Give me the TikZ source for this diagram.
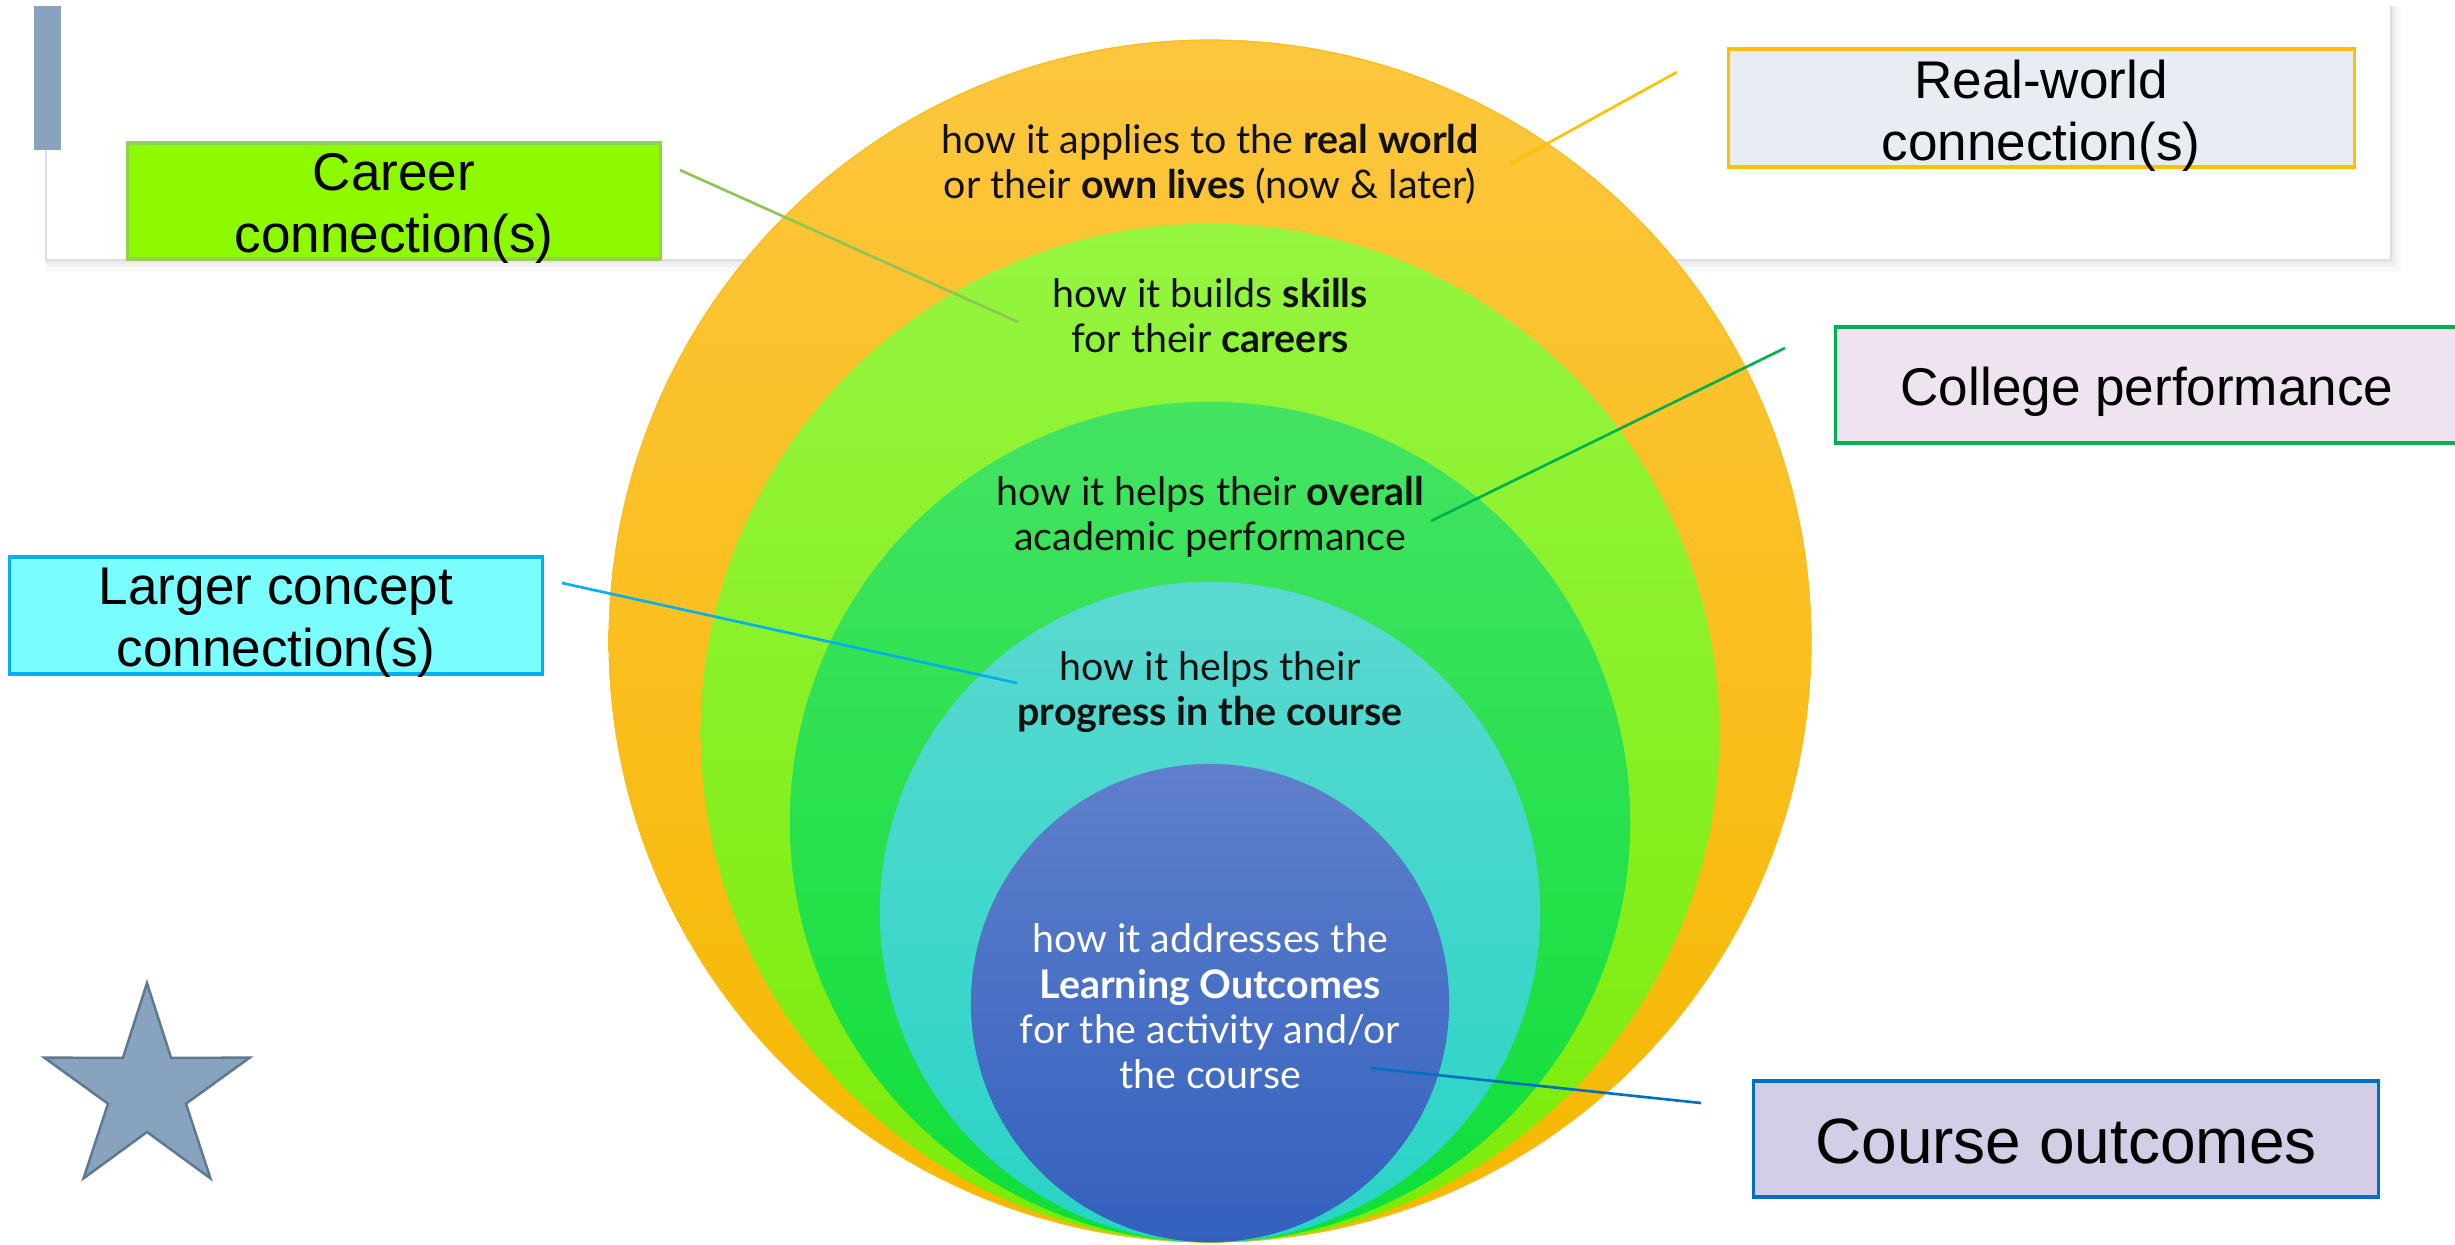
\documentclass[tikz,border=0pt]{standalone}
\usepackage{fontspec}
\setmainfont{Liberation Sans}
\newfontfamily\circfont{Lato}
\definecolor{oTop}{HTML}{FEC63E}
\definecolor{oBot}{HTML}{F5B800}
\definecolor{lTop}{HTML}{95F540}
\definecolor{lBot}{HTML}{7CEB08}
\definecolor{gTop}{HTML}{44E362}
\definecolor{gBot}{HTML}{0EDF3A}
\definecolor{cTop}{HTML}{5AD9D0}
\definecolor{cBot}{HTML}{28D4C6}
\definecolor{bTop}{HTML}{5F80CB}
\definecolor{bBot}{HTML}{3360BE}
\definecolor{barBlue}{HTML}{87A3BE}
\definecolor{starEdge}{HTML}{5F7890}
\definecolor{hdrLine}{HTML}{DCDFE9}
\definecolor{careerFill}{HTML}{8EFA00}
\definecolor{careerLine}{HTML}{92D050}
\definecolor{realFill}{HTML}{E8ECF3}
\definecolor{realLine}{HTML}{FFC000}
\definecolor{largerFill}{HTML}{7AFDFE}
\definecolor{largerLine}{HTML}{00B0F0}
\definecolor{collegeFill}{HTML}{EDE4F0}
\definecolor{collegeLine}{HTML}{00B050}
\definecolor{courseFill}{HTML}{D3CDE5}
\definecolor{courseLine}{HTML}{0070C0}
\definecolor{txtDark}{HTML}{111111}
\begin{document}
\begin{tikzpicture}[x=0.01cm,y=-0.01cm,
  ring/.style={circle,inner sep=0pt,outer sep=0pt,draw=none},
  lblbox/.style={rectangle,inner sep=0pt,line width=0.9pt},
  lbltxt/.style={anchor=base,inner sep=0pt,align=center,font=\fontsize{15.1}{17.6}\selectfont,text=black},
  circtxt/.style={anchor=base,inner sep=0pt,align=center,font=\circfont\fontsize{11.2}{12.8}\selectfont,text=txtDark},
  conn/.style={line width=0.75pt}]
\useasboundingbox (0,0) rectangle (2455,1244);
% header panel with soft shadow
\fill[black,opacity=0.025] (46,6) rectangle (2401,272);
\fill[black,opacity=0.03] (46,6) rectangle (2397,267);
\fill[black,opacity=0.03] (46,6) rectangle (2394,263);
\fill[white] (46,6) rectangle (2391,260);
\draw[hdrLine,line width=0.6pt] (46,6) -- (46,260) -- (2391,260) -- (2391,6);
\fill[barBlue] (34,6) rectangle (61,150);
% solid underlays (avoid shading seams)
\fill[oTop!50!oBot] (1210,641) circle (6.01cm);
\fill[lTop!50!lBot] (1210,733) circle (5.09cm);
\fill[gTop!50!gBot] (1210,822) circle (4.20cm);
\fill[cTop!50!cBot] (1210,912) circle (3.30cm);
\fill[bTop!50!bBot] (1210,1003) circle (2.39cm);
% nested circles, tangent at the bottom
\node[ring,minimum size=12.02cm,top color=oTop,bottom color=oBot] (orange) at (1210,641) {};
\draw[oTop!45!oBot,line width=0.3pt] (1210,641) circle (6.005cm);
\node[ring,minimum size=10.18cm,top color=lTop,bottom color=lBot] (lime) at (1210,733) {};
\node[ring,minimum size=8.40cm,top color=gTop,bottom color=gBot] (green) at (1210,822) {};
\node[ring,minimum size=6.60cm,top color=cTop,bottom color=cBot] (cyan) at (1210,912) {};
\node[ring,minimum size=4.78cm,top color=bTop,bottom color=bBot] (blue) at (1210,1003) {};
% circle texts (anchor = baseline of last line)
\node[circtxt] (tOrange) at (1210,198) {how it applies to the \textbf{real world}\\or their \textbf{own lives} (now \& later)};
\node[circtxt] (tLime) at (1210,352) {how it builds \textbf{skills}\\for their \textbf{careers}};
\node[circtxt] (tGreen) at (1210,550) {how it helps their \textbf{overall}\\academic performance};
\node[circtxt] (tCyan) at (1210,725) {how it helps their\\\textbf{progress in the course}};
\node[circtxt,text=white] (tBlue) at (1210,1088) {how it addresses the\\\textbf{Learning Outcomes}\\for the activity and/or\\the course};
% label boxes
\node[lblbox,fill=careerFill,draw=careerLine,minimum width=5.32cm,minimum height=1.16cm] (career) at (394,201) {};
\node[lbltxt] (careerTxt) at (394,252) {Career\\connection(s)};
\node[lblbox,fill=realFill,draw=realLine,minimum width=6.25cm,minimum height=1.18cm] (real) at (2041.5,108) {};
\node[lbltxt] (realTxt) at (2041,160) {Real-world\\connection(s)};
\node[lblbox,fill=largerFill,draw=largerLine,minimum width=5.32cm,minimum height=1.17cm] (larger) at (276,615.5) {};
\node[lbltxt] (largerTxt) at (276,666) {Larger concept\\connection(s)};
\node[lblbox,fill=collegeFill,draw=collegeLine,minimum width=6.84cm,minimum height=1.16cm] (college) at (2178,385) {};
\node[lbltxt] (collegeTxt) at (2147,405) {College performance};
\node[lblbox,fill=courseFill,draw=courseLine,minimum width=6.24cm,minimum height=1.16cm] (course) at (2066,1139) {};
\node[lbltxt,font=\fontsize{18.2}{21}\selectfont] (courseTxt) at (2066,1163) {Course outcomes};
% connector end points
\coordinate (careerA) at (680,170);
\coordinate (careerB) at (1018,322);
\coordinate (realA) at (1677,72);
\coordinate (realB) at (1510,164);
\coordinate (collegeA) at (1785,348);
\coordinate (collegeB) at (1431,521);
\coordinate (largerA) at (562,583);
\coordinate (largerB) at (1017,683);
\coordinate (courseA) at (1701,1103);
\coordinate (courseB) at (1371,1068);
\draw[conn,careerLine!85!gray] (careerA) -- (careerB);
\draw[conn,realLine] (realA) -- (realB);
\draw[conn,collegeLine] (collegeA) -- (collegeB);
\draw[conn,largerLine] (largerA) -- (largerB);
\draw[conn,courseLine] (courseA) -- (courseB);
% star
\draw[fill=barBlue,draw=starEdge,line width=0.7pt,line join=miter,shift={(147,1091)}]
  (270:108) -- (306:41) -- (342:108) -- (18:41) -- (54:108) -- (90:41)
  -- (126:108) -- (162:41) -- (198:108) -- (234:41) -- cycle;
\end{tikzpicture}
\end{document}
